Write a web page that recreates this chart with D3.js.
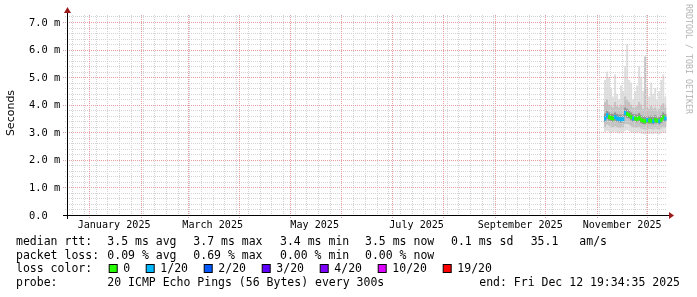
<!DOCTYPE html>
<html>
<head>
<meta charset="utf-8">
<script src="https://cdn.jsdelivr.net/npm/d3@7/dist/d3.min.js"></script>
<style>
  body { margin: 0; background: #fff; }
  svg text { font-family: 'DejaVu Sans Mono', monospace; fill: #000; }
</style>
</head>
<body>
<svg id="chart" width="697" height="297"></svg>
<script>
const CHART = d3.select('#chart');

// graph window (rrd end time, one year back)
const endTime = new Date(2025, 11, 12, 19, 34, 35);
const startTime = d3.timeDay.offset(endTime, -359);

// samples: one every 28.8h starting early november
const firstSample = new Date(2025, 10, 5, 4, 0, 0);
const sampleStepMs = 28.8 * 3600 * 1000;

// values in ms
let medianRtt = [3.50, 3.62, 3.55, 3.52, 3.50, 3.55, 3.50, 3.48, 3.47, 3.48, 3.70, 3.66, 3.62, 3.55, 3.50, 3.50,
                 3.48, 3.52, 3.45, 3.42, 3.40, 3.45, 3.42, 3.42, 3.40, 3.45, 3.42, 3.40, 3.45, 3.55, 3.50];
let lossCount = [1, 1, 0, 0, 0, 1, 1, 1, 1, 1, 1, 0, 0, 0, 1, 0,
                 0, 0, 0, 0, 0, 1, 0, 0, 1, 0, 0, 1, 0, 0, 1];
let smokeMin  = [3.00, 3.05, 3.02, 2.98, 3.00, 3.02, 2.98, 2.96, 2.98, 3.00, 3.05, 3.08, 3.04, 3.00, 2.98, 3.00,
                 2.96, 3.00, 2.95, 2.94, 2.92, 2.96, 2.94, 2.95, 2.93, 2.96, 2.94, 2.92, 2.96, 3.00, 2.98];
let smokeP10  = [3.20, 3.28, 3.24, 3.20, 3.18, 3.22, 3.18, 3.16, 3.15, 3.16, 3.30, 3.30, 3.28, 3.22, 3.18, 3.18,
                 3.16, 3.20, 3.14, 3.12, 3.10, 3.14, 3.12, 3.12, 3.10, 3.14, 3.12, 3.10, 3.14, 3.20, 3.18];
let smokeP25  = [3.38, 3.48, 3.43, 3.40, 3.38, 3.42, 3.38, 3.36, 3.35, 3.36, 3.55, 3.52, 3.50, 3.43, 3.38, 3.38,
                 3.36, 3.40, 3.33, 3.30, 3.29, 3.33, 3.31, 3.31, 3.29, 3.33, 3.31, 3.29, 3.33, 3.42, 3.38];
let smokeP75  = [3.68, 3.80, 3.72, 3.68, 3.66, 3.72, 3.66, 3.64, 3.64, 3.65, 3.90, 3.85, 3.80, 3.72, 3.66, 3.66,
                 3.64, 3.70, 3.62, 3.58, 3.58, 3.62, 3.58, 3.60, 3.56, 3.62, 3.58, 3.56, 3.62, 3.72, 3.66];
let smokeP90  = [4.10, 4.20, 4.00, 3.95, 3.90, 4.10, 3.95, 3.90, 4.00, 3.95, 4.30, 4.20, 4.10, 4.00, 3.90, 3.90,
                 3.95, 4.10, 4.00, 3.85, 5.75, 3.90, 3.85, 3.95, 3.85, 3.90, 3.80, 3.85, 3.95, 4.05, 3.90];
let smokeMax  = [4.90, 5.20, 5.00, 4.60, 4.30, 5.10, 4.40, 4.20, 4.70, 4.50, 5.40, 6.20, 4.90, 4.80, 4.20, 4.50,
                 4.70, 5.40, 5.00, 4.50, 4.60, 4.60, 4.30, 4.80, 4.40, 4.60, 4.20, 4.50, 4.90, 5.10, 4.30];

// legend
let lossLabels = ['0', '1/20', '2/20', '3/20', '4/20', '10/20', '19/20'];
let lossColors = ['#26ff00', '#00b8ff', '#0059ff', '#5e00ff', '#7e00ff', '#dd00ff', '#ff0000'];
let lossSteps  = [0, 1, 2, 3, 4, 10, 19];
let rttStats   = ['3.5 ms avg', '3.7 ms max', '3.4 ms min', '3.5 ms now', '0.1 ms sd'];
let lossStats  = ['0.09 % avg', '0.69 % max', '0.00 % min', '0.00 % now'];
let yTicks     = [0, 1, 2, 3, 4, 5, 6, 7];

const x = d3.scaleTime().domain([startTime, endTime]).range([67, 667]);
const y = d3.scaleLinear().domain([0, 7.254]).range([215, 15]);

let samples = medianRtt.map((m, i) => ({
    t: new Date(+firstSample + i * sampleStepMs),
    t2: new Date(+firstSample + (i + 1) * sampleStepMs),
    median: m,
    loss: lossCount[i],
    min: smokeMin[i], p10: smokeP10[i], p25: smokeP25[i],
    p75: smokeP75[i], p90: smokeP90[i], max: smokeMax[i]
}));

function lossColor(n) {
    let idx = 0;
    lossSteps.forEach((s, i) => { if (n >= s) idx = i });
    return lossColors[idx];
}

// smoke bands, outer to inner
const bands = [['min', 'max', '#dedede'], ['p10', 'p90', '#c2c2c2'], ['p25', 'p75', '#939393']];
bands.forEach(b => {
    CHART.append('g').selectAll('rect')
        .data(samples)
        .join('rect')
        .attr('x', d => x(d.t))
        .attr('width', d => x(d.t2) - x(d.t))
        .attr('y', d => y(d[b[1]]))
        .attr('height', d => y(d[b[0]]) - y(d[b[1]]))
        .attr('fill', b[2]);
});

// grid
const grid = CHART.append('g').attr('stroke-dasharray', '1,1').attr('shape-rendering', 'crispEdges');

grid.append('g').selectAll('line')
    .data(d3.timeWeek.range(startTime, endTime))
    .join('line')
    .attr('x1', d => Math.round(x(d)) + 0.5).attr('x2', d => Math.round(x(d)) + 0.5)
    .attr('y1', 15).attr('y2', 217)
    .attr('stroke', '#d4d4d4');

grid.append('g').selectAll('line')
    .data(d3.range(0.2, 7.25, 0.2))
    .join('line')
    .attr('x1', 65).attr('x2', 667)
    .attr('y1', d => Math.round(y(d)) + 0.5).attr('y2', d => Math.round(y(d)) + 0.5)
    .attr('stroke', '#d4d4d4');

grid.append('g').selectAll('line')
    .data(d3.timeMonth.range(startTime, endTime))
    .join('line')
    .attr('x1', d => Math.round(x(d)) + 0.5).attr('x2', d => Math.round(x(d)) + 0.5)
    .attr('y1', 15).attr('y2', 218)
    .attr('stroke', '#e7a0a0');

grid.append('g').selectAll('line')
    .data(yTicks.slice(1))
    .join('line')
    .attr('x1', 63).attr('x2', 667)
    .attr('y1', d => Math.round(y(d)) + 0.5).attr('y2', d => Math.round(y(d)) + 0.5)
    .attr('stroke', '#e7a0a0');

// median, coloured by loss
CHART.append('g').selectAll('rect')
    .data(samples)
    .join('rect')
    .attr('x', d => x(d.t))
    .attr('width', d => x(d.t2) - x(d.t) + 0.3)
    .attr('y', d => y(d.median) - 2)
    .attr('height', 4)
    .attr('fill', d => lossColor(d.loss));

// axes
const axes = CHART.append('g').attr('shape-rendering', 'crispEdges');
axes.append('line').attr('x1', 63).attr('x2', 670).attr('y1', 215.5).attr('y2', 215.5).attr('stroke', '#000');
axes.append('line').attr('x1', 67.5).attr('x2', 67.5).attr('y1', 219).attr('y2', 12).attr('stroke', '#000');
CHART.append('path').attr('d', 'M669,212 L674,215.5 L669,219 Z').attr('fill', '#9c1a1a');
CHART.append('path').attr('d', 'M64,13 L67.5,7 L71,13 Z').attr('fill', '#9c1a1a');

// all text in one group (grayscale antialiasing)
const TEXT = CHART.append('g').attr('opacity', 0.999);

// y labels
TEXT.append('g').selectAll('text')
    .data(yTicks)
    .join('text')
    .attr('x', 29)
    .attr('y', d => y(d) + 3.6)
    .attr('font-size', '10.4px')
    .text(d => d === 0 ? '0.0' : d.toFixed(1) + ' m');

// x labels, centred half a month in
TEXT.append('g').selectAll('text')
    .data(d3.timeMonth.every(2).range(d3.timeDay.offset(startTime, 10), endTime))
    .join('text')
    .attr('x', d => x(d3.timeDay.offset(d, 15)))
    .attr('y', 228)
    .attr('text-anchor', 'middle')
    .attr('font-size', '10.1px')
    .text(d => d3.timeFormat('%B %Y')(d));

TEXT.append('text')
    .attr('transform', 'translate(14,113) rotate(-90)')
    .attr('text-anchor', 'middle')
    .style('font-family', "'DejaVu Sans', sans-serif")
    .attr('font-size', '11px')
    .text('Seconds');

TEXT.append('text')
    .attr('transform', 'translate(686,4) rotate(90)')
    .attr('font-size', '8.3px')
    .style('fill', '#b4b4b4')
    .text('RRDTOOL / TOBI OETIKER');

// legend
const LEGEND = TEXT.append('g').attr('font-size', '11.5px');
const statX = [107.3, 193.3, 280, 365, 451];

function legendText(tx, ty, s) {
    LEGEND.append('text').attr('x', tx).attr('y', ty).text(s);
}

legendText(16, 245, 'median rtt:');
rttStats.forEach((s, i) => legendText(statX[i], 245, s));
legendText(530.7, 245, '35.1');
legendText(579.3, 245, 'am/s');

legendText(16, 258.7, 'packet loss:');
lossStats.forEach((s, i) => legendText(statX[i], 258.7, s));

legendText(16, 272.4, 'loss color:');
const boxX = [108.7, 145.7, 203.7, 261.7, 319.7, 377.7, 442.7];
lossLabels.forEach((l, i) => {
    LEGEND.append('rect')
        .attr('x', boxX[i] + 0.5).attr('y', 264.5)
        .attr('width', 8).attr('height', 8)
        .attr('fill', lossColors[i])
        .attr('stroke', '#000');
    legendText(boxX[i] + 14.6, 272.4, l);
});

legendText(16, 286, 'probe:');
legendText(107.3, 286, '20 ICMP Echo Pings (56 Bytes) every 300s');
LEGEND.append('text').attr('x', 680).attr('y', 286).attr('text-anchor', 'end')
    .text('end: ' + d3.timeFormat('%a %b %d %H:%M:%S %Y')(endTime));
</script>
</body>
</html>
